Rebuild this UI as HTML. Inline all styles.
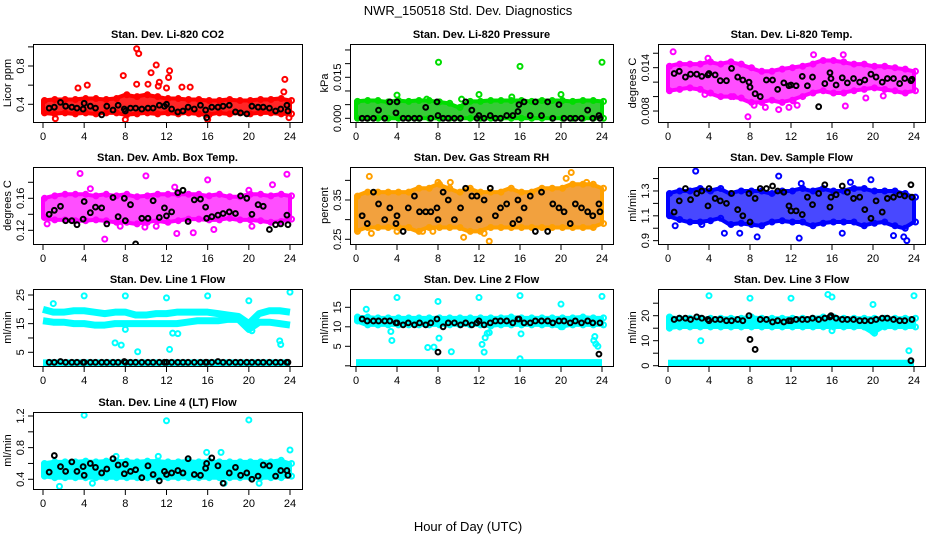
<!DOCTYPE html>
<html><head><meta charset="utf-8">
<style>
html,body{margin:0;padding:0;background:#fff;}
svg{display:block;font-family:"Liberation Sans",sans-serif;}
</style></head>
<body>
<svg id="chart" width="936" height="540" viewBox="0 0 936 540" xmlns="http://www.w3.org/2000/svg">
<rect x="0" y="0" width="936" height="540" fill="#fff"/>
<text x="468" y="15" font-size="13" text-anchor="middle">NWR_150518  Std. Dev. Diagnostics</text>
<text x="468" y="531" font-size="13" text-anchor="middle">Hour of Day (UTC)</text>
</svg>
<script>
const xTicks = [0,4,8,12,16,20,24];
const bandHours = [0,1,2,3,4,5,6,7,8,9,10,11,12,13,14,15,16,17,18,19,20,21,22,23,24];
const blackHours = [0.6,1.1,1.7,2.2,2.8,3.3,3.9,4.0,4.6,5.1,5.7,6.2,6.8,7.3,7.9,8.0,8.5,9.0,9.6,10.2,10.7,11.3,11.8,12.0,12.5,13.1,13.6,14.1,14.7,15.3,15.8,15.9,16.4,17.0,17.5,18.1,18.7,19.2,19.8,20.3,20.9,21.4,22.0,22.6,23.1,23.7,23.8];

// Panel 1 CO2
const co2Low = [0.31,0.30,0.31,0.30,0.31,0.30,0.31,0.31,0.29,0.30,0.31,0.30,0.31,0.30,0.31,0.30,0.29,0.31,0.30,0.31,0.30,0.31,0.31,0.30,0.30];
const co2High = [0.44,0.45,0.45,0.45,0.46,0.46,0.45,0.46,0.50,0.48,0.50,0.48,0.46,0.46,0.45,0.45,0.44,0.44,0.45,0.44,0.44,0.45,0.45,0.46,0.44];
const co2Out = [[9.1,0.98],[9.3,0.93],[11,0.81],[12.3,0.75],[10.5,0.73],[7.8,0.70],[12.2,0.68],[23.5,0.66],[10.2,0.61],[9.1,0.61],[11.3,0.63],[3.4,0.57],[4.3,0.60],[13.5,0.58],[14.3,0.58],[12,0.57],[23.4,0.53],[11.2,0.59],[8,0.24],[1.2,0.25],[23.9,0.26],[16,0.24]];
const co2Black = [0.36,0.37,0.42,0.38,0.37,0.36,0.35,0.41,0.38,0.36,0.29,0.38,0.34,0.39,0.35,0.33,0.36,0.36,0.35,0.36,0.36,0.39,0.38,0.40,0.35,0.32,0.33,0.37,0.35,0.39,0.34,0.26,0.37,0.37,0.38,0.39,0.32,0.31,0.30,0.38,0.37,0.37,0.36,0.33,0.35,0.39,0.33];
// Panel 2 Pressure
const presLow = [0,0,0,0,0,0,0,0,0,0,0,0,0,0,0,0,0,0,0,0,0,0,0,0,0];
const presHigh = [0.0062,0.0065,0.0065,0.006,0.0065,0.0062,0.0065,0.0065,0.006,0.0055,0.004,0.0062,0.0062,0.0065,0.0065,0.0065,0.0065,0.0062,0.0065,0.0065,0.0065,0.0062,0.0065,0.0065,0.0062];
const presOut = [[8.05,0.0205],[16,0.019],[24,0.0205],[4,0.0085],[12,0.0087],[20,0.0087],[15.2,0.0078],[6.9,0.007],[10.3,0.007]];
const presBlack = [0,0,0,0.003,0,0.006,0.002,0.006,0,0,0,0,0.004,0,0.006,0.001,0,0,0,0,0.006,0.003,0,0.001,0,0.001,0,0,0.001,0.001,0.0025,0.005,0.006,0.001,0.006,0.001,0.006,0,0.005,0,0,0,0,0.003,0,0.001,0];
// Panel 3 Li-820 Temp
const tempLow = [0.0108,0.0110,0.0112,0.0110,0.0105,0.0100,0.0100,0.0098,0.0092,0.0092,0.0095,0.0092,0.0095,0.0100,0.0105,0.0108,0.0105,0.0105,0.0108,0.0110,0.0112,0.0110,0.0108,0.0105,0.0108];
const tempHigh = [0.0142,0.0145,0.0145,0.0145,0.0148,0.0145,0.0148,0.0145,0.0140,0.0135,0.0135,0.0138,0.0140,0.0142,0.0145,0.0150,0.0150,0.0148,0.0145,0.0145,0.0142,0.0142,0.0140,0.0138,0.0135];
const tempOut = [[0.5,0.0162],[7.8,0.0072],[8.4,0.0088],[9.5,0.0085],[11.8,0.0085],[12.6,0.0088],[17.3,0.0087],[3.9,0.0153],[14.2,0.0158],[17.1,0.0158],[3.6,0.0103],[6.4,0.0100],[10.8,0.0082],[12.2,0.0094],[19.3,0.0098],[21,0.0101]];
const tempBlack = [0.0132,0.0135,0.0127,0.0131,0.0131,0.0128,0.0130,0.0132,0.0130,0.0122,0.0122,0.0139,0.0127,0.0123,0.0120,0.0113,0.0104,0.0100,0.0123,0.0123,0.0110,0.0119,0.0115,0.0116,0.0115,0.0128,0.0115,0.0127,0.0086,0.0118,0.0133,0.0125,0.0116,0.0126,0.0119,0.0125,0.0120,0.0123,0.0131,0.0127,0.0120,0.0125,0.0125,0.0118,0.0125,0.0122,0.0124];
// Panel 4 Amb Box Temp
const ambLow = [0.136,0.133,0.133,0.132,0.132,0.133,0.132,0.130,0.130,0.128,0.130,0.132,0.130,0.132,0.134,0.134,0.133,0.133,0.135,0.133,0.133,0.132,0.130,0.131,0.134];
const ambHigh = [0.160,0.163,0.165,0.165,0.165,0.163,0.165,0.163,0.165,0.162,0.163,0.165,0.165,0.165,0.165,0.165,0.163,0.165,0.162,0.162,0.165,0.165,0.163,0.165,0.163];
const ambOut = [[3.6,0.191],[10,0.188],[16,0.183],[22.3,0.177],[23.7,0.19],[6,0.109],[13,0.116],[14.6,0.117],[16.6,0.121],[7.5,0.125],[11,0.125],[9.9,0.124],[20.3,0.125],[0.4,0.128],[12.8,0.174],[20,0.17],[4.6,0.172]];
const ambBlack = [0.140,0.145,0.150,0.132,0.132,0.127,0.134,0.156,0.142,0.149,0.148,0.128,0.161,0.137,0.160,0.132,0.152,0.103,0.135,0.135,0.157,0.136,0.148,0.138,0.143,0.167,0.170,0.131,0.158,0.159,0.149,0.135,0.137,0.139,0.141,0.143,0.141,0.163,0.160,0.140,0.152,0.150,0.121,0.127,0.128,0.139,0.127];
// Panel 5 Gas Stream RH
const rhLow = [0.27,0.28,0.28,0.28,0.28,0.28,0.27,0.28,0.28,0.28,0.28,0.27,0.27,0.28,0.28,0.28,0.28,0.28,0.28,0.28,0.28,0.28,0.28,0.28,0.29];
const rhHigh = [0.36,0.37,0.37,0.37,0.37,0.37,0.38,0.38,0.39,0.38,0.37,0.38,0.37,0.37,0.37,0.38,0.37,0.37,0.38,0.38,0.38,0.39,0.39,0.39,0.38];
const rhOut = [[1.3,0.41],[8,0.395],[9.2,0.395],[21,0.42],[20.5,0.405],[22.5,0.395],[10.5,0.255],[13,0.245],[1.5,0.265],[4,0.27],[6.5,0.27],[7.5,0.27],[12.5,0.265]];
const rhBlack = [0.31,0.29,0.37,0.34,0.30,0.33,0.29,0.31,0.27,0.33,0.36,0.32,0.32,0.32,0.33,0.30,0.37,0.35,0.30,0.33,0.38,0.36,0.36,0.30,0.35,0.38,0.31,0.33,0.34,0.29,0.35,0.30,0.33,0.36,0.27,0.37,0.27,0.34,0.33,0.32,0.29,0.34,0.33,0.32,0.31,0.34,0.32];
// Panel 6 Sample Flow
const sfLow = [1.10,1.07,1.05,1.05,1.06,1.08,1.03,1.04,1.03,1.02,1.05,1.06,1.05,1.05,1.02,1.04,1.05,1.05,1.05,1.02,1.04,1.05,1.02,1.00,1.05];
const sfHigh = [1.28,1.30,1.30,1.32,1.30,1.32,1.28,1.30,1.30,1.30,1.28,1.30,1.30,1.32,1.30,1.32,1.30,1.30,1.32,1.32,1.30,1.30,1.30,1.28,1.25];
const sfOut = [[2.7,1.46],[10.8,1.42],[19.8,1.39],[17.8,1.37],[13,1.36],[0.7,1.02],[5.5,0.96],[7,0.96],[8.7,0.93],[12.8,0.92],[22,0.94],[23.3,0.90],[23,0.93],[17,0.96],[3.3,1.03]];
const sfBlack = [1.13,1.22,1.32,1.23,1.28,1.30,1.18,1.32,1.24,1.22,1.20,1.28,1.15,1.10,1.28,1.05,1.24,1.32,1.32,1.34,1.30,1.29,1.18,1.14,1.14,1.11,1.25,1.19,1.28,1.35,1.17,1.25,1.27,1.34,1.29,1.24,1.25,1.15,1.08,1.22,1.13,1.24,1.25,1.27,1.26,1.35,1.25];
// Panel 7 Line 1 Flow
const l1Upper = [20,19,19,19.5,19.5,19,18.5,19,19,18,18,18.5,18.5,19,19,19,19,18.5,18,17.5,15,18.5,19.5,19.5,19];
const l1Lower = [16,15.5,15.5,15,15,14.5,14.5,15,15,15,15,15,15,15,15.5,16,16,16,16.5,16.5,13,15.5,15.5,15,14.5];
const l1Bottom = [1.3,1.3,1.3,1.3,1.3,1.3,1.3,1.3,1.3,1.3,1.3,1.3,1.3,1.3,1.3,1.3,1.3,1.3,1.3,1.3,1.3,1.3,1.3,1.3,1.3];
const l1Out = [[4,24.7],[8,24.7],[12,24],[16,24.7],[20,23],[24,26],[7,8.3],[7.6,7.5],[9.2,5.2],[12.3,6],[12.6,11.7],[13.1,11.5],[23,9],[23.1,7.7],[20.3,12.5],[8,13],[1,22]];
const l1Black = [1.5,1.5,1.8,1.5,1.5,1.5,1.5,1.5,1.5,1.5,1.5,1.5,1.5,1.5,1.8,1.5,1.5,1.5,1.5,1.5,1.5,1.5,1.5,1.5,1.5,1.5,1.5,1.5,1.5,1.5,1.5,1.5,1.5,1.8,1.5,1.5,1.5,1.5,1.5,1.5,1.5,1.5,1.5,1.5,1.5,1.5,1.5];
// Panel 8 Line 2 Flow
const l2Low = [11.5,10.5,10.5,10.5,10.5,10.5,10.5,10.5,10.5,10.5,10.5,10.5,10.5,10.2,10.5,10.5,10.5,10.5,10.5,10.5,10,10.5,10.5,10.5,10.5];
const l2High = [12.5,12.5,12.3,12.3,12.3,12.3,12.3,12.3,12.3,12.3,12.3,12.3,12.3,12.3,12.3,12.5,12.3,12.3,12.3,12.3,12.3,12.3,12.5,12.3,12.3];
const l2Bottom = [0.8,0.8,0.8,0.8,0.8,0.8,0.8,0.8,0.8,0.8,0.8,0.8,0.8,0.8,0.8,0.8,0.8,0.8,0.8,0.8,0.8,0.8,0.8,0.8,0.8];
const l2Out = [[1,14.5],[4,17.5],[8,16.5],[12,17.5],[16,18],[20,15.8],[24,17.8],[3.5,6.5],[3.4,8.8],[7,4.7],[7.6,4.8],[9.3,3.6],[12.3,5.5],[12.5,3.5],[12.6,7.2],[12.8,8.3],[13,8.5],[8.1,7.1],[16,1.8],[16.1,8.2],[23.3,7.5],[23.2,6.5],[23.6,5],[23.4,5.6],[20,10]];
const l2Black = [12,11.5,11.5,11.5,11.5,11.5,11,11,10.5,11,10.5,11,10.5,11,12,3.5,10,11,11,10.5,11,10.5,11,11.5,10.5,11,11.5,11.5,11.5,11,12,12,11,11,11.5,11.5,11.5,11,11.5,11.5,11,11.5,11,11.5,11,3,11];
// Panel 9 Line 3 Flow
const l3Low = [15,15.5,15.5,15.5,15.5,15.5,15.5,15.5,15.5,15.5,15.5,15.5,15.5,15.5,15.5,15.5,15.5,15.5,15.5,15.5,13,15.5,15.5,15.5,15.5];
const l3High = [19.5,19,19,19,19,19,19,19,19.5,19,19,19,19,19,19,19.5,19.5,19,19,19,19,19,19,19,19];
const l3Bottom = [1.0,1.0,1.0,1.0,1.0,1.0,1.0,1.0,1.0,1.0,1.0,1.0,1.0,1.0,1.0,1.0,1.0,1.0,1.0,1.0,1.0,1.0,1.0,1.0,1.0];
const l3Out = [[4,28],[8,27],[12,27],[15.6,28.5],[16,27.5],[20,24.5],[24,28],[3.2,10],[16,14],[23.5,6],[20,13.5]];
const l3Black = [18.5,19,19,18.5,19.5,19,18.5,18,18.5,18.5,18,18,18.5,18,20,10.5,6.5,18.5,18.5,17.5,18,17.5,18,18,18.5,18.5,18.5,19,18.5,19,19.5,20,19,18.5,18.5,18.5,18,18,18,18.5,19,19,18.5,18,18,2,18.5];
// Panel 10 Line 4 (LT) Flow
const l4Low = [0.44,0.42,0.42,0.42,0.42,0.42,0.42,0.42,0.42,0.42,0.42,0.42,0.42,0.42,0.42,0.42,0.42,0.42,0.42,0.42,0.42,0.42,0.42,0.42,0.44];
const l4High = [0.60,0.62,0.62,0.62,0.63,0.62,0.63,0.63,0.63,0.62,0.63,0.63,0.62,0.62,0.63,0.62,0.63,0.62,0.62,0.62,0.62,0.62,0.62,0.64,0.60];
const l4Out = [[4,1.21],[12,1.14],[20,1.15],[24,0.77],[1.6,0.31],[17.3,0.74],[15.9,0.74],[4.8,0.35],[21,0.35],[17.6,0.35],[11.2,0.69],[7.1,0.69]];
const l4Black = [0.49,0.70,0.56,0.50,0.62,0.50,0.56,0.45,0.60,0.55,0.48,0.53,0.66,0.58,0.47,0.59,0.50,0.52,0.42,0.57,0.46,0.38,0.50,0.46,0.48,0.51,0.48,0.66,0.46,0.45,0.54,0.60,0.67,0.57,0.35,0.48,0.55,0.45,0.48,0.40,0.44,0.58,0.57,0.44,0.51,0.51,0.45];

const cols=[{l:33,r:302,x0:43,x24:290},{l:350,r:613,x0:356,x24:602},{l:658,r:925,x0:668,x24:914}];
const rows=[{t:44,b:122},{t:167,b:244},{t:289,b:366},{t:412,b:489}];
const panels=[
 {c:0,r:0,name:'co2',title:'Stan. Dev. Li-820 CO2',ylab:'Licor ppm',ymin:0.215,ymax:1.03,ticks:[0.4,0.6,0.8,1.0],labels:{'0.4':'0.4','0.8':'0.8'},col:'#ff0000',fill:'#ff1a1a',op:0.95,low:co2Low,high:co2High,out:co2Out,blk:co2Black},
 {c:1,r:0,name:'pressure',title:'Stan. Dev. Li-820 Pressure',ylab:'kPa',ymin:-0.00135,ymax:0.02718,ticks:[0,0.005,0.01,0.015,0.02,0.025],labels:{'0':'0.000','0.015':'0.015'},col:'#00dd00',fill:'#2cc82c',op:0.95,low:presLow,high:presHigh,out:presOut,blk:presBlack},
 {c:2,r:0,name:'li820-temp',title:'Stan. Dev. Li-820 Temp.',ylab:'degrees C',ymin:0.00648,ymax:0.01728,ticks:[0.008,0.010,0.012,0.014,0.016],labels:{'0.008':'0.008','0.014':'0.014'},col:'#ff00ff',fill:'#ff22ff',op:0.8,low:tempLow,high:tempHigh,out:tempOut,blk:tempBlack},
 {c:0,r:1,name:'amb-box-temp',title:'Stan. Dev. Amb. Box Temp.',ylab:'degrees C',ymin:0.1029,ymax:0.1991,ticks:[0.12,0.14,0.16,0.18],labels:{'0.12':'0.12','0.16':'0.16'},col:'#ff00ff',fill:'#ff22ff',op:0.8,low:ambLow,high:ambHigh,out:ambOut,blk:ambBlack},
 {c:1,r:1,name:'gas-rh',title:'Stan. Dev. Gas Stream RH',ylab:'percent',ymin:0.238,ymax:0.434,ticks:[0.25,0.30,0.35,0.40],labels:{'0.25':'0.25','0.35':'0.35'},col:'#ffa000',fill:'#f0901c',op:0.85,low:rhLow,high:rhHigh,out:rhOut,blk:rhBlack},
 {c:2,r:1,name:'sample-flow',title:'Stan. Dev. Sample Flow',ylab:'ml/min',ymin:0.873,ymax:1.493,ticks:[0.9,1.0,1.1,1.2,1.3,1.4],labels:{'0.9':'0.9','1.1':'1.1','1.3':'1.3'},col:'#0000ff',fill:'#1a1aff',op:0.8,low:sfLow,high:sfHigh,out:sfOut,blk:sfBlack},
 {c:0,r:2,name:'line1-flow',title:'Stan. Dev. Line 1 Flow',ylab:'ml/min',ymin:0.218,ymax:27.09,ticks:[5,10,15,20,25],labels:{'5':'5','15':'15','25':'25'},col:'#00ffff',fill:'#00ffff',op:1,lines:[l1Upper,l1Lower,l1Bottom],out:l1Out,blk:l1Black},
 {c:1,r:2,name:'line2-flow',title:'Stan. Dev. Line 2 Flow',ylab:'ml/min',ymin:-0.05,ymax:19.69,ticks:[0,5,10,15],labels:{'5':'5','10':'10','15':'15'},col:'#00ffff',fill:'#00ffff',op:1,low:l2Low,high:l2High,lines:[l2Bottom],out:l2Out,blk:l2Black},
 {c:2,r:2,name:'line3-flow',title:'Stan. Dev. Line 3 Flow',ylab:'ml/min',ymin:-0.12,ymax:30.68,ticks:[0,5,10,15,20,25],labels:{'0':'0','10':'10','20':'20'},col:'#00ffff',fill:'#00ffff',op:1,low:l3Low,high:l3High,lines:[l3Bottom],out:l3Out,blk:l3Black},
 {c:0,r:3,name:'line4-flow',title:'Stan. Dev. Line 4 (LT) Flow',ylab:'ml/min',ymin:0.277,ymax:1.2506,ticks:[0.4,0.6,0.8,1.0,1.2],labels:{'0.4':'0.4','0.8':'0.8','1.2':'1.2'},col:'#00ffff',fill:'#00ffff',op:1,low:l4Low,high:l4High,out:l4Out,blk:l4Black}
];
const NS='http://www.w3.org/2000/svg';
const svg=document.getElementById('chart');
function mk(tag,attrs,parent){const e=document.createElementNS(NS,tag);for(const k in attrs)e.setAttribute(k,attrs[k]);(parent||svg).appendChild(e);return e;}
panels.forEach(p=>{
  const C=cols[p.c],R=rows[p.r];
  const xs=h=>C.x0+(C.x24-C.x0)*h/24;
  const ys=v=>R.b-(v-p.ymin)/(p.ymax-p.ymin)*(R.b-R.t);
  const g=mk('g',{});
  
  
  const clip=mk('clipPath',{id:'clip-'+p.name},g);
  mk('rect',{x:C.l,y:R.t,width:C.r-C.l,height:R.b-R.t},clip);
  const dg=mk('g',{'clip-path':'url(#clip-'+p.name+')'},g);
  if(p.low){
    let pts=bandHours.map((h,i)=>xs(h)+','+ys(p.high[i]));
    pts=pts.concat(bandHours.slice().reverse().map((h,j)=>{const i=bandHours.length-1-j;return xs(h)+','+ys(p.low[i]);}));
    const band=mk('polygon',{points:pts.join(' '),fill:p.fill,'fill-opacity':p.op,stroke:p.col,'stroke-width':4,'stroke-linejoin':'round'},dg);
    
    
    bandHours.forEach((h,i)=>{
      [p.low[i],p.high[i]].forEach(v=>{
        const c=mk('circle',{cx:xs(h)+1.5,cy:ys(v),r:2.5,fill:'none',stroke:p.col,'stroke-width':2},dg);
        
        
      });
    });
  }
  (p.lines||[]).forEach(arr=>{
    const pl=mk('polyline',{points:bandHours.map((h,i)=>xs(h)+','+ys(arr[i])).join(' '),fill:'none',stroke:p.col,'stroke-width':7,'stroke-linejoin':'round'},dg);
    
    
  });
  p.out.forEach(o=>{
    const c=mk('circle',{cx:xs(o[0]),cy:ys(o[1]),r:2.5,fill:'none',stroke:p.col,'stroke-width':2},dg);
    
    
  });
  p.blk.forEach((v,i)=>{
    if(i>=blackHours.length)return;
    const c=mk('circle',{cx:xs(blackHours[i]),cy:ys(v),r:2.4,fill:'none',stroke:'#000','stroke-width':2},dg);
    
    
  });
  const box=mk('rect',{x:C.l+0.5,y:R.t+0.5,width:C.r-C.l,height:R.b-R.t,fill:'none',stroke:'#000','stroke-width':1},g);
  
  
  xTicks.forEach(t=>{
    const x=xs(t);
    mk('line',{x1:x,y1:R.b+1,x2:x,y2:R.b+6,stroke:'#000'},g);
    const tl=mk('text',{x:x,y:R.b+18,'font-size':11,'text-anchor':'middle'},g);
    tl.textContent=t;
    
    
  });
  p.ticks.forEach(t=>{
    const y=ys(t);
    mk('line',{x1:C.l-5,y1:y,x2:C.l,y2:y,stroke:'#000'},g);
    const lab=p.labels[String(t)];
    if(lab!==undefined){
      const tl=mk('text',{x:C.l-9,y:y,'font-size':11,'text-anchor':'middle',transform:'rotate(-90 '+(C.l-9)+' '+y+')'},g);
      tl.textContent=lab;
      
      
    }
  });
  const yc=(R.t+R.b)/2;
  const yt=mk('text',{x:C.l-22,y:yc,'font-size':11,'text-anchor':'middle',transform:'rotate(-90 '+(C.l-22)+' '+yc+')'},g);
  yt.textContent=p.ylab;
  
  
  const tt=mk('text',{x:(C.l+C.r)/2,y:R.t-6,'font-size':11,'font-weight':'bold','text-anchor':'middle'},g);
  tt.textContent=p.title;
  
  
});
</script>
</body></html>
